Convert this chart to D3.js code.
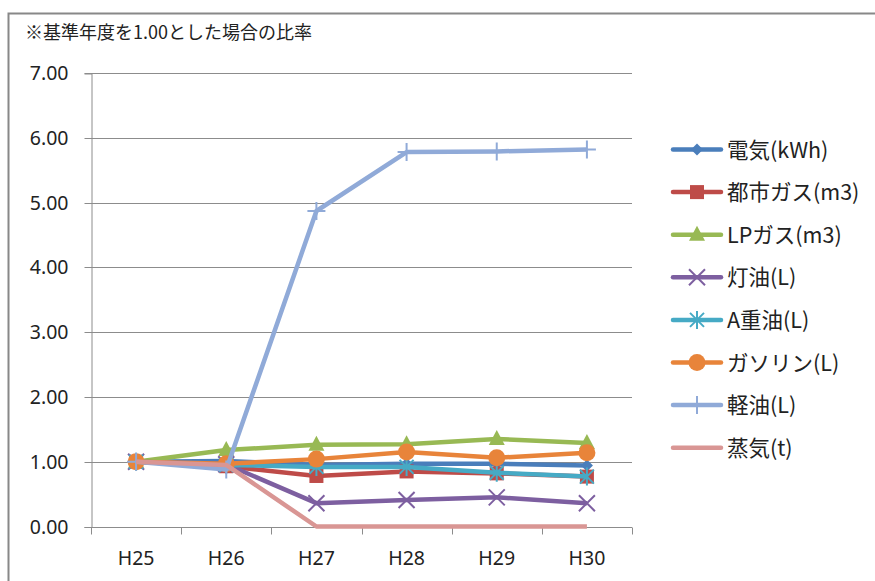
<!DOCTYPE html>
<html>
<head>
<meta charset="utf-8">
<script src="https://cdn.jsdelivr.net/npm/d3@7"></script>
<style>
  html, body { margin: 0; padding: 0; background: #fff; }
  svg { display: block; }
  text { font-family: "Noto Sans CJK JP", "Noto Sans", sans-serif; fill: #222; }
</style>
</head>
<body>
<svg id="chart" width="875" height="581"></svg>
<script>
// Fiscal years (base year H25 = 1.00)
const years = ["H25", "H26", "H27", "H28", "H29", "H30"];

// Ratio to base year for each energy type
const denki     = [1.00, 1.01, 0.95, 0.97, 0.97, 0.94];
const toshiGas  = [1.00, 0.93, 0.78, 0.85, 0.82, 0.77];
const lpGas     = [1.00, 1.18, 1.26, 1.27, 1.35, 1.29];
const touyu     = [1.00, 0.96, 0.36, 0.41, 0.45, 0.36];
const aJuyu     = [1.00, 0.95, 0.92, 0.92, 0.83, 0.77];
const gasoline  = [1.00, 0.97, 1.04, 1.15, 1.06, 1.14];
const keiyu     = [1.00, 0.88, 4.87, 5.78, 5.79, 5.82];
const jouki     = [1.00, 0.95, 0.00, 0.00, 0.00, 0.00];

const seriesNames = ["電気(kWh)", "都市ガス(m3)", "LPガス(m3)", "灯油(L)", "A重油(L)", "ガソリン(L)", "軽油(L)", "蒸気(t)"];
const seriesValues = [denki, toshiGas, lpGas, touyu, aJuyu, gasoline, keiyu, jouki];
const seriesColors = ["#4A7EBB", "#BE4B48", "#98B954", "#7D5FA0", "#46AAC5", "#E8843A", "#90AAD8", "#D99694"];
const seriesMarkers = ["diamond", "square", "triangle", "x", "star", "circle", "plus", "none"];

const yTicks = [0, 1, 2, 3, 4, 5, 6, 7];

const svg = d3.select("#chart");

// outer frame
svg.append("path")
  .attr("d", "M8.5,581 L8.5,13.5 L875,13.5")
  .attr("fill", "none").attr("stroke", "#888").attr("stroke-width", 2);

svg.append("text")
  .attr("x", 25).attr("y", 39)
  .style("font-size", "18px")
  .text("※基準年度を1.00とした場合の比率");

const plot = { left: 91, right: 632, top: 73, bottom: 526.5 };

const x = d3.scaleBand().domain(years).range([plot.left, plot.right]);
const y = d3.scaleLinear().domain([0, 7]).range([plot.bottom, plot.top]);

// horizontal grid lines
svg.append("g")
  .selectAll("line")
  .data(yTicks)
  .join("line")
  .attr("x1", plot.left).attr("x2", plot.right)
  .attr("y1", d => Math.round(y(d)) + 0.5).attr("y2", d => Math.round(y(d)) + 0.5)
  .attr("stroke", "#8c8c8c").attr("stroke-width", 1);

// y axis
const yAxis = svg.append("g")
  .attr("transform", `translate(${plot.left + 0.5},0.5)`)
  .call(d3.axisLeft(y).tickValues(yTicks).tickFormat(d3.format(".2f")).tickSize(7).tickPadding(16));
yAxis.select(".domain").attr("stroke", "#8c8c8c");
yAxis.selectAll(".tick line").attr("stroke", "#8c8c8c");
yAxis.selectAll(".tick text").style("font-size", "19.5px").attr("fill", "#222")
  .style("font-family", "'Noto Sans', sans-serif");
yAxis.selectAll(".tick").attr("transform", d => `translate(0,${Math.round(y(d))})`);

// x axis with ticks between categories
const xg = svg.append("g").attr("transform", `translate(0,${Math.round(plot.bottom) + 0.5})`);
const boundaries = years.map(d => x(d)).concat([plot.right]);
xg.selectAll("line.tk")
  .data(boundaries)
  .join("line")
  .attr("class", "tk")
  .attr("x1", d => Math.round(d) + 0.5).attr("x2", d => Math.round(d) + 0.5)
  .attr("y1", 0).attr("y2", 7)
  .attr("stroke", "#8c8c8c");
xg.selectAll("text")
  .data(years)
  .join("text")
  .attr("x", d => x(d) + x.bandwidth() / 2)
  .attr("y", 37)
  .attr("text-anchor", "middle")
  .style("font-size", "19.5px")
  .style("font-family", "'Noto Sans', sans-serif")
  .text(d => d);

const cx = d => x(d) + x.bandwidth() / 2;

function drawMarker(g, type, color, px, py) {
  if (type === "diamond") {
    g.append("path").attr("d", `M${px},${py - 6} L${px + 6},${py} L${px},${py + 6} L${px - 6},${py} Z`).attr("fill", color);
  } else if (type === "square") {
    g.append("rect").attr("x", px - 7).attr("y", py - 7).attr("width", 14).attr("height", 14).attr("fill", color);
  } else if (type === "triangle") {
    g.append("path").attr("d", `M${px},${py - 9} L${px + 8},${py + 6} L${px - 8},${py + 6} Z`).attr("fill", color);
  } else if (type === "x") {
    g.append("path").attr("d", `M${px - 8},${py - 8} L${px + 8},${py + 8} M${px - 8},${py + 8} L${px + 8},${py - 8}`)
      .attr("stroke", color).attr("stroke-width", 2);
  } else if (type === "star") {
    g.append("path").attr("d", `M${px - 7},${py - 7} L${px + 7},${py + 7} M${px - 7},${py + 7} L${px + 7},${py - 7} M${px},${py - 9} L${px},${py + 9}`)
      .attr("stroke", color).attr("stroke-width", 2);
  } else if (type === "circle") {
    g.append("circle").attr("cx", px).attr("cy", py).attr("r", 8.5).attr("fill", color);
  } else if (type === "plus") {
    g.append("path").attr("d", `M${px - 9},${py} L${px + 9},${py} M${px},${py - 9} L${px},${py + 9}`)
      .attr("stroke", color).attr("stroke-width", 2);
  }
}

const line = d3.line().x((d, i) => cx(years[i])).y(d => y(d));

seriesValues.forEach((vals, si) => {
  const g = svg.append("g");
  g.append("path")
    .datum(vals)
    .attr("d", line)
    .attr("fill", "none")
    .attr("stroke", seriesColors[si])
    .attr("stroke-width", 4.5)
    .attr("stroke-linejoin", "round");
  vals.forEach((v, i) => drawMarker(g, seriesMarkers[si], seriesColors[si], cx(years[i]), y(v)));
});

// legend
const legend = svg.append("g");
seriesNames.forEach((name, i) => {
  const ly = 149.5 + i * 42.6;
  const g = legend.append("g");
  g.append("line")
    .attr("x1", 673).attr("x2", 721).attr("y1", ly).attr("y2", ly)
    .attr("stroke", seriesColors[i]).attr("stroke-width", 4.5).attr("stroke-linecap", "round");
  drawMarker(g, seriesMarkers[i], seriesColors[i], 697, ly);
  g.append("text")
    .attr("x", 727).attr("y", ly + 8)
    .style("font-size", "21.5px")
    .text(name);
});
</script>
</body>
</html>
